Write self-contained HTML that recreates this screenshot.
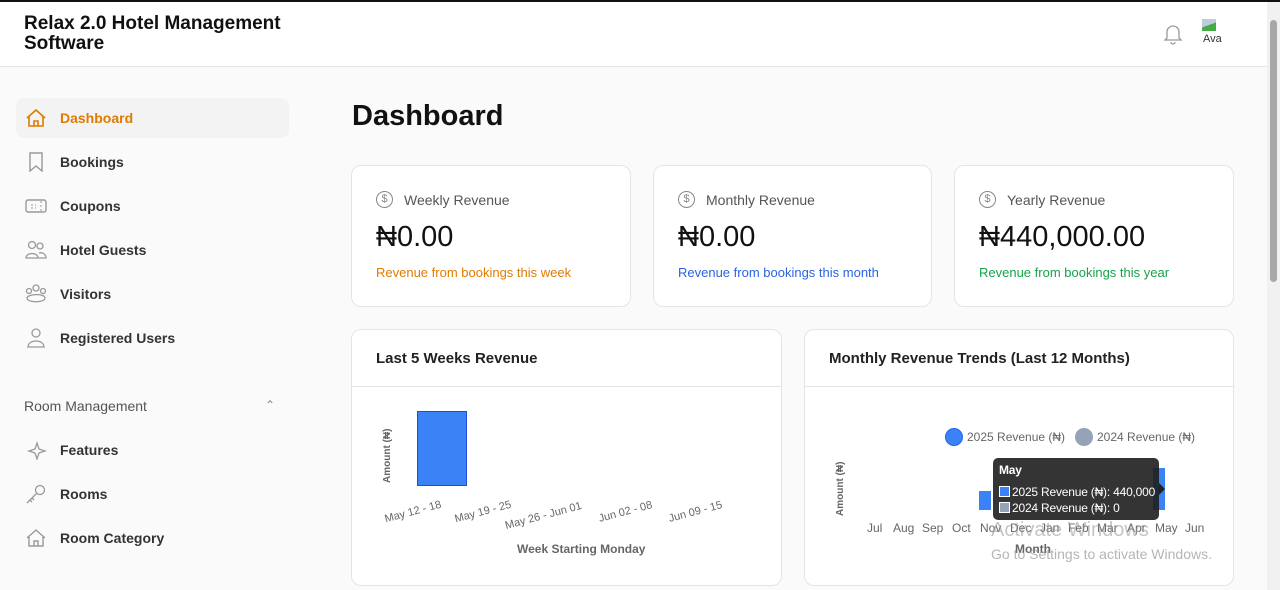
<!DOCTYPE html>
<html><head><meta charset="utf-8"><style>
*{box-sizing:border-box;margin:0;padding:0}
body{width:1280px;height:590px;overflow:hidden;background:#fafafa;font-family:"Liberation Sans",sans-serif;position:relative}
.top{position:absolute;left:0;top:0;width:1280px;height:2px;background:#111}
.hdr{position:absolute;top:2px;left:0;width:1267px;height:65px;background:#fff;border-bottom:1px solid #e5e5e5}
.logo{position:absolute;left:24px;top:12px;font-size:19px;font-weight:bold;line-height:20px;color:#111}
.sb{position:absolute;right:0;top:2px;width:13px;height:588px;background:#f1f1f1}
.sb div{position:absolute;left:3px;top:18px;width:7px;height:262px;background:#a8a8a8;border-radius:4px}
.nav{position:absolute;left:16px;width:273px;height:40px;font-size:14px;color:#333;font-weight:bold;line-height:40px;padding-left:44px}
.nav svg{position:absolute;left:9px;top:10px}
.card{position:absolute;background:#fff;border:1px solid #e5e5e5;border-radius:10px}
.ct{position:absolute;left:24px;top:26px;font-size:14px;color:#555;padding-left:28px}
.ct i{position:absolute;left:0;top:-1px;width:17px;height:17px;border:1.5px solid #888;border-radius:50%;font-style:normal;font-size:11px;text-align:center;line-height:14px;color:#888}
.cv{position:absolute;left:24px;top:55px;font-size:29px;color:#111}
.cs{position:absolute;left:24px;top:99px;font-size:13px}
.h{position:absolute;left:24px;top:20px;font-size:15px;font-weight:bold;color:#222}
.line{position:absolute;left:0;right:0;top:56px;border-top:1px solid #e5e5e5}
.t{position:absolute;font-size:11px;color:#666;white-space:nowrap}
</style></head><body>
<div class="top"></div>
<div class="hdr"><div class="logo">Relax 2.0 Hotel Management<br>Software</div>
<svg style="position:absolute;left:1163px;top:21px" width="20" height="22" viewBox="0 0 20 22"><path d="M4 15V9a6 6 0 0 1 12 0v6l2 2H2z M8 19a2 2 0 0 0 4 0" fill="none" stroke="#999" stroke-width="1.3"/></svg>
<div style="position:absolute;left:1202px;top:17px;width:14px;height:12px;background:linear-gradient(160deg,#bcd 50%,#4a4 50%)"></div>
<div style="position:absolute;left:1203px;top:31px;font-size:11px;color:#333">Ava</div>
</div>
<div class="sb"><div></div></div>
<div class="nav" style="top:98px;background:#f3f3f3;border-radius:8px;color:#e07b00"><svg width="22" height="20"><path d="M2 10L11 2l9 8M4 8v10h14V8M9 18v-5h4v5" fill="none" stroke="#e07b00" stroke-width="1.6"/></svg>Dashboard</div>
<div class="nav" style="top:142px"><svg width="22" height="20"><path d="M5 1h12v18l-6-5-6 5z" fill="none" stroke="#999" stroke-width="1.4"/></svg>Bookings</div>
<div class="nav" style="top:186px"><svg width="22" height="20"><rect x="1" y="4" width="20" height="12" rx="2" fill="none" stroke="#999" stroke-width="1.4"/><path d="M6 9h5M6 12h5M16 5v10" stroke="#999" stroke-dasharray="2 2"/></svg>Coupons</div>
<div class="nav" style="top:230px"><svg width="22" height="20"><circle cx="7" cy="5" r="3.5" fill="none" stroke="#999" stroke-width="1.3"/><circle cx="15" cy="6" r="3" fill="none" stroke="#999" stroke-width="1.3"/><path d="M1 18c0-6 12-6 12 0zM12 18h9c0-4-4-6-7-5" fill="none" stroke="#999" stroke-width="1.3"/></svg>Hotel Guests</div>
<div class="nav" style="top:274px"><svg width="22" height="20"><circle cx="11" cy="4" r="3" fill="none" stroke="#999" stroke-width="1.3"/><circle cx="4" cy="7" r="2.5" fill="none" stroke="#999" stroke-width="1.3"/><circle cx="18" cy="7" r="2.5" fill="none" stroke="#999" stroke-width="1.3"/><path d="M2 14c0 5 18 5 18 0s-18-4-18 0" fill="none" stroke="#999" stroke-width="1.3"/></svg>Visitors</div>
<div class="nav" style="top:318px"><svg width="22" height="20"><circle cx="11" cy="5" r="4" fill="none" stroke="#999" stroke-width="1.3"/><path d="M3 19c0-8 16-8 16 0z" fill="none" stroke="#999" stroke-width="1.3"/></svg>Registered Users</div>
<div style="position:absolute;left:24px;top:398px;font-size:14px;color:#555">Room Management</div>
<div style="position:absolute;left:265px;top:398px;font-size:12px;color:#888">&#8963;</div>
<div class="nav" style="top:430px"><svg width="22" height="20"><path d="M12 3l2 6 6 2-6 2-2 6-2-6-6-2 6-2z" fill="none" stroke="#999" stroke-width="1.3"/></svg>Features</div>
<div class="nav" style="top:474px"><svg width="22" height="20"><circle cx="15" cy="6" r="4.5" fill="none" stroke="#999" stroke-width="1.3"/><path d="M12 9L2 19M5 16l2 2M7 14l2 2" stroke="#999" stroke-width="1.3"/></svg>Rooms</div>
<div class="nav" style="top:518px"><svg width="22" height="20"><path d="M2 10L11 2l9 8M4 8v10h14V8M9 18v-5h4v5" fill="none" stroke="#999" stroke-width="1.4"/></svg>Room Category</div>

<div style="position:absolute;left:352px;top:100px;font-size:29px;font-weight:bold;color:#111">Dashboard</div>

<div class="card" style="left:351px;top:165px;width:280px;height:142px"><div class="ct"><i>$</i>Weekly Revenue</div><div class="cv">₦0.00</div><div class="cs" style="color:#e07b00">Revenue from bookings this week</div></div>
<div class="card" style="left:653px;top:165px;width:279px;height:142px"><div class="ct"><i>$</i>Monthly Revenue</div><div class="cv">₦0.00</div><div class="cs" style="color:#2b63e0">Revenue from bookings this month</div></div>
<div class="card" style="left:954px;top:165px;width:280px;height:142px"><div class="ct"><i>$</i>Yearly Revenue</div><div class="cv">₦440,000.00</div><div class="cs" style="color:#16a34a">Revenue from bookings this year</div></div>

<div class="card" style="left:351px;top:329px;width:431px;height:257px"><div class="h">Last 5 Weeks Revenue</div><div class="line"></div>
<div style="position:absolute;left:65px;top:81px;width:50px;height:75px;background:#3b82f6;border:1px solid #1d4ed8"></div>
<div class="t" style="transform:rotate(-90deg);transform-origin:left top;font-weight:bold;font-size:10px;top:153px;left:30px">Amount (₦)</div>
<div class="t" style="left:32px;top:176px;transform:rotate(-15deg)">May 12 - 18</div>
<div class="t" style="left:102px;top:176px;transform:rotate(-15deg)">May 19 - 25</div>
<div class="t" style="left:152px;top:180px;transform:rotate(-15deg)">May 26 - Jun 01</div>
<div class="t" style="left:246px;top:176px;transform:rotate(-15deg)">Jun 02 - 08</div>
<div class="t" style="left:316px;top:176px;transform:rotate(-15deg)">Jun 09 - 15</div>
<div class="t" style="left:165px;top:212px;font-weight:bold;font-size:12px">Week Starting Monday</div>
</div>

<div class="card" style="left:804px;top:329px;width:430px;height:257px"><div class="h">Monthly Revenue Trends (Last 12 Months)</div><div class="line"></div>
<div style="position:absolute;left:140px;top:98px;width:18px;height:18px;border-radius:50%;background:#3b82f6;border:1px solid #2563eb"></div>
<div class="t" style="left:162px;top:100px;font-size:12px">2025 Revenue (₦)</div>
<div style="position:absolute;left:270px;top:98px;width:18px;height:18px;border-radius:50%;background:#94a3b8"></div>
<div class="t" style="left:292px;top:100px;font-size:12px">2024 Revenue (₦)</div>
<div class="t" style="transform:rotate(-90deg);transform-origin:left top;left:30px;top:186px;font-weight:bold;font-size:10px">Amount (₦)</div>
<div style="position:absolute;left:174px;top:161px;width:12px;height:19px;background:#3b82f6"></div>
<div style="position:absolute;left:348px;top:138px;width:12px;height:42px;background:#3b82f6"></div>
<div class="t" style="left:62px;top:191px;font-size:12px">Jul</div>
<div class="t" style="left:88px;top:191px;font-size:12px">Aug</div>
<div class="t" style="left:117px;top:191px;font-size:12px">Sep</div>
<div class="t" style="left:147px;top:191px;font-size:12px">Oct</div>
<div class="t" style="left:175px;top:191px;font-size:12px">Nov</div>
<div class="t" style="left:205px;top:191px;font-size:12px">Dec</div>
<div class="t" style="left:235px;top:191px;font-size:12px">Jan</div>
<div class="t" style="left:263px;top:191px;font-size:12px">Feb</div>
<div class="t" style="left:292px;top:191px;font-size:12px">Mar</div>
<div class="t" style="left:322px;top:191px;font-size:12px">Apr</div>
<div class="t" style="left:350px;top:191px;font-size:12px">May</div>
<div class="t" style="left:380px;top:191px;font-size:12px">Jun</div>
<div class="t" style="left:210px;top:212px;font-weight:bold;font-size:12px">Month</div>
<div style="position:absolute;left:188px;top:128px;width:166px;height:62px;background:rgba(30,30,30,.9);border-radius:5px;color:#fff;font-size:12px;line-height:16px;padding:4px 6px;white-space:nowrap;letter-spacing:-0.2px">
<b>May</b><br><div style="margin-top:6px"><span style="display:inline-block;width:11px;height:11px;background:#3b82f6;border:1px solid #fff;vertical-align:-1px;margin-right:2px"></span>2025 Revenue (₦): 440,000</div><div><span style="display:inline-block;width:11px;height:11px;background:#94a3b8;border:1px solid #fff;vertical-align:-1px;margin-right:2px"></span>2024 Revenue (₦): 0</div></div>
<div style="position:absolute;left:354px;top:153px;width:0;height:0;border:6px solid transparent;border-left-color:#222"></div>
</div>
<div style="position:absolute;left:991px;top:519px;font-size:20px;color:rgba(150,150,150,.55)">Activate Windows</div>
<div style="position:absolute;left:991px;top:546px;font-size:14px;color:rgba(150,150,150,.7)">Go to Settings to activate Windows.</div>
</body></html>
